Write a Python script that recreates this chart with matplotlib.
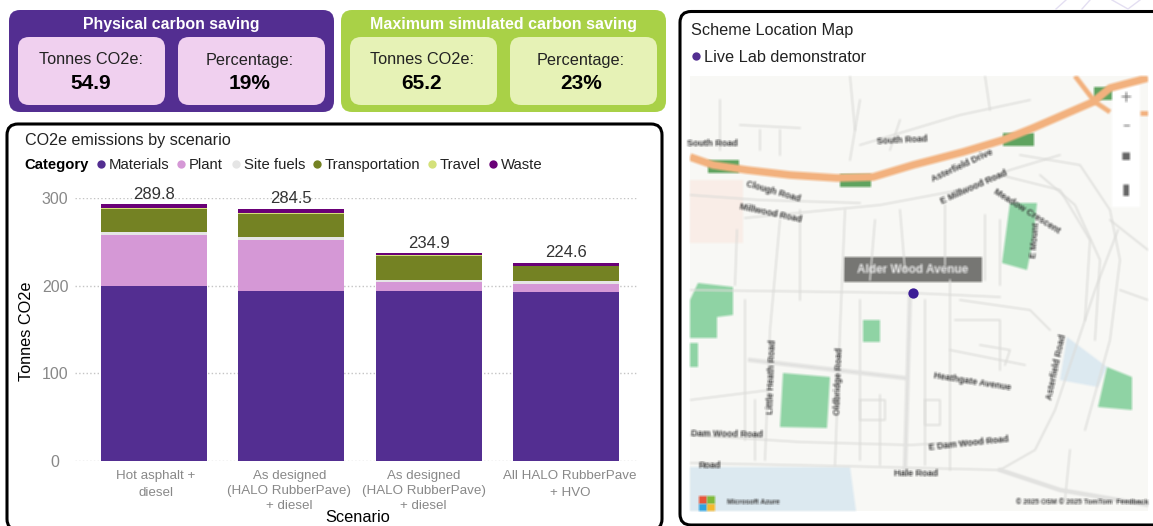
import numpy as np
import matplotlib
matplotlib.use('Agg')
import matplotlib.pyplot as plt
from matplotlib.patches import FancyBboxPatch, Polygon, Rectangle
from matplotlib.transforms import ScaledTranslation

plt.rcParams['font.family'] = ['Liberation Sans', 'DejaVu Sans']

# chart data
scenarios = ['Hot asphalt +\ndiesel', 'As designed\n(HALO RubberPave)\n+ diesel',
             'As designed\n(HALO RubberPave)\n+ diesel', 'All HALO RubberPave\n+ HVO']
totals = ['289.8', '284.5', '234.9', '224.6']
categories = ['Materials', 'Plant', 'Site fuels', 'Transportation', 'Travel', 'Waste']
materials = [200.0, 194.3, 194.3, 193.1]
plant = [58.3, 58.3, 10.3, 9.2]
site_fuels = [3.4, 3.4, 2.3, 3.4]
transportation = [26.3, 26.3, 27.4, 17.2]
travel = [1.1, 1.1, 0.2, 0.1]
waste = [3.5, 4.6, 3.2, 3.4]
yticks = [0, 100, 200, 300]
cat_colors = ['#532E91', '#D598D6', '#E5E5E5', '#748223', '#D4E17A', '#6A0077']
legend_x = [101, 181, 235.5, 316.5, 431.5, 492.5]

# map data (pixel positions of the basemap features)
main_road = [(690, 157), (713, 165), (747, 170), (790, 175), (837, 178), (873, 177), (913, 165),
             (963, 152), (1003, 140), (1033, 128), (1093, 102), (1110, 88), (1148, 78)]
side_roads = [[(1075, 76), (1095, 102), (1110, 112)], [(1148, 113), (1140, 113)]]
shields = [(708, 160), (840, 174), (1003, 133), (1094, 87)]
parks = [[(1010, 203), (1037, 203), (1033, 240), (1027, 270), (1002, 263)],
         [(698, 283), (733, 287), (733, 315), (717, 317), (717, 338), (690, 338), (690, 300)],
         [(690, 343), (698, 343), (698, 367), (690, 367)],
         [(863, 320), (880, 320), (880, 342), (863, 342)],
         [(783, 373), (830, 377), (827, 428), (780, 427)],
         [(1107, 367), (1132, 377), (1132, 410), (1098, 407)]]
water = [[(690, 467), (850, 467), (856, 511), (690, 511)],
         [(1067, 337), (1107, 367), (1098, 387), (1060, 380)]]
pink_area = [(690, 180), (743, 180), (743, 243), (690, 243)]
streets = [[(690, 290), (912, 293), (1000, 297)],
           [(690, 463), (840, 466), (1000, 470), (1035, 450), (1055, 410), (1075, 350), (1095, 290), (1118, 230)],
           [(745, 218), (880, 205), (960, 190), (1010, 170), (1060, 155)], [(690, 195), (760, 200), (860, 203)],
           [(780, 220), (770, 330), (765, 460)], [(845, 210), (840, 330), (835, 465)],
           [(690, 435), (800, 442), (910, 445), (1000, 440)],
           [(1020, 155), (1080, 165), (1110, 210), (1120, 260), (1110, 340), (1085, 430)],
           [(1000, 175), (1060, 190), (1090, 240), (1085, 320)], [(1040, 175), (1075, 205), (1100, 260), (1095, 340)],
           [(950, 280), (950, 470)], [(960, 300), (1030, 310), (1050, 330)],
           [(1000, 470), (1060, 490), (1148, 505)], [(720, 100), (720, 150)], [(850, 76), (855, 130)],
           [(985, 76), (990, 110)], [(740, 125), (800, 128)], [(860, 145), (960, 115), (1030, 100)],
           [(800, 210), (800, 300)], [(900, 210), (905, 270)], [(690, 400), (770, 390)],
           [(950, 350), (1025, 365)], [(737, 230), (735, 285)], [(875, 220), (870, 280)],
           [(945, 205), (945, 265)], [(985, 215), (985, 280)], [(760, 130), (760, 150)], [(780, 130), (780, 155)],
           [(860, 100), (850, 160)], [(900, 120), (890, 150)], [(745, 300), (745, 440)], [(755, 400), (755, 460)],
           [(860, 300), (860, 460)], [(880, 395), (880, 465)], [(925, 300), (925, 465)], [(955, 320), (1000, 320), (1000, 370)],
           [(980, 345), (1010, 350), (1005, 365)], [(860, 400), (885, 400), (885, 420), (860, 420), (860, 400)],
           [(925, 400), (940, 400), (940, 425), (925, 425), (925, 400)], [(1000, 220), (1000, 285)],
           [(1120, 290), (1148, 300)], [(1110, 220), (1148, 250)], [(1070, 450), (1065, 500)]]
wide_streets = [[(910, 293), (905, 470)], [(750, 360), (905, 378)], [(1000, 470), (1060, 490), (1148, 505)]]
road_labels = [('South Road', 712, 143, 0), ('South Road', 902, 140, 3), ('Asterfield Drive', 962, 166, 25),
               ('E Millwood Road', 974, 187, 24), ('Clough Road', 773, 191, -16), ('Millwood Road', 771, 213, -12),
               ('Meadow Crescent', 1027, 211, -32), ('Little Heath Road', 772, 377, 88), ('Oldbridge Road', 839, 381, 88),
               ('Heathgate Avenue', 972, 382, -9), ('Asterfield Road', 1056, 367, 78), ('E Dam Wood Road', 969, 443, 6),
               ('Dam Wood Road', 727, 434, -1), ('Hale Road', 916, 474, 0), ('Road', 710, 466, 0),
               ('E Mount', 1035, 240, 85), ('Microsoft Azure', 753, 503, 0),
               ('© 2025 OSM © 2025 TomTom  Feedback', 1082, 503, 0)]
map_controls = ['+', '–', '▪', '▮']


def blur(image, dpi):
    # box blur on premultiplied colours, the basemap in the reference is a soft screenshot
    pad = 4
    img = np.pad(image, ((pad, pad), (pad, pad), (0, 0)))
    img[..., :3] = img[..., :3] * img[..., 3:4]
    for axis in (0, 1):
        img = (np.roll(img, -1, axis) + np.roll(img, 1, axis) + img) / 3
    a = np.clip(img[..., 3:4], 1e-4, 1)
    img[..., :3] = np.clip(img[..., :3] / a, 0, 1)
    return img, -pad, -pad


def card(ax, x0, y0, x1, y1, color, r):
    p = FancyBboxPatch((x0, y0), x1 - x0, y1 - y0, boxstyle='round,pad=0,rounding_size=' + str(r),
                       fc=color, ec='none', mutation_aspect=1)
    ax.add_patch(p)


fig = plt.figure(figsize=(11.53, 5.26), dpi=100)

# whole figure axes in pixels, for cards and the map
bg = fig.add_axes([0, 0, 1, 1])
bg.set_xlim(0, 1153)
bg.set_ylim(526, 0)
bg.axis('off')

# KPI cards
card(bg, 9, 10, 334, 112, '#532E91', 11)
card(bg, 341, 10, 666, 112, '#A9D147', 11)
card(bg, 18, 37, 165, 105, '#F0D0EF', 11)
card(bg, 178, 37, 325, 105, '#F0D0EF', 11)
card(bg, 350, 37, 497, 105, '#E6F2B6', 11)
card(bg, 510, 37, 657, 105, '#E6F2B6', 11)
bg.text(171, 24, 'Physical carbon saving', color='white', fontsize=11.4, fontweight='bold', ha='center', va='center')
bg.text(504, 24, 'Maximum simulated carbon saving', color='white', fontsize=11.5, fontweight='bold', ha='center', va='center')
for cx, lab, val in [(91, 'Tonnes CO2e:', '54.9'), (250, 'Percentage:', '19%'),
                     (422, 'Tonnes CO2e:', '65.2'), (581, 'Percentage:', '23%')]:
    bg.text(cx, 60, lab, color='#222222', fontsize=11.7, ha='center', va='center')
    bg.text(cx, 83.5, val, color='black', fontsize=15, fontweight='bold', ha='center', va='center')

# panel borders
for x0, y0, x1, y1 in [(7, 124, 662, 530), (680, 11.5, 1165, 525)]:
    p = FancyBboxPatch((x0, y0), x1 - x0, y1 - y0, boxstyle='round,pad=0,rounding_size=11',
                       fc='white', ec='black', lw=2.2, mutation_aspect=1)
    bg.add_patch(p)

# faint watermark strokes at the top right
for seg in [[(1056, 9), (1066, 0)], [(1082, 9), (1090, 0)], [(1112, 0), (1128, 9), (1140, 0)]]:
    bg.plot(*zip(*seg), color='#E4DFF2', lw=1)

bg.text(25, 140, 'CO2e emissions by scenario', color='#222222', fontsize=11.6, ha='left', va='center')
bg.text(24, 165, 'Category', color='black', fontsize=10.7, fontweight='bold', ha='left', va='center')
for x, name, col in zip(legend_x, categories, cat_colors):
    bg.scatter([x], [164], s=36, color=col, linewidths=0)
    bg.text(x + 8, 165, name, color='#222222', fontsize=10.7, ha='left', va='center')
bg.text(27, 331, 'Tonnes CO2e', color='black', fontsize=11.7, rotation=90, ha='center', va='center')
bg.text(358, 518, 'Scenario', color='black', fontsize=11.8, ha='center', va='center')

bg.text(691, 30, 'Scheme Location Map', color='#222222', fontsize=11.7, ha='left', va='center')
bg.scatter([696], [56], s=36, color='#532E91', linewidths=0)
bg.text(704, 57, 'Live Lab demonstrator', color='#222222', fontsize=11.7, ha='left', va='center')

# map
mapbox = Rectangle((690, 76), 458, 435, fc='#F8F8F5', ec='none')
bg.add_patch(mapbox)
soft = []
soft.append(bg.add_patch(Polygon(pink_area, fc='#F9EEE7', ec='none')))
for w in water:
    soft.append(bg.add_patch(Polygon(w, fc='#DCE9F1', ec='none')))
for s in streets:
    soft += bg.plot(*zip(*s), color='#DCDCD9', lw=1.1)
for s in wide_streets:
    soft += bg.plot(*zip(*s), color='#E2E2E0', lw=3)
for park in parks:
    soft.append(bg.add_patch(Polygon(park, fc='#8FD3A4', ec='none')))
soft += bg.plot(*zip(*main_road), color='#F3B27E', lw=5.5, solid_capstyle='butt')
for s in side_roads:
    soft += bg.plot(*zip(*s), color='#F3B27E', lw=3.5, solid_capstyle='butt')
for sx, sy in shields:
    soft.append(bg.add_patch(Rectangle((sx, sy), 31, 13, fc='#5FA35F', ec='none')))
soft.append(bg.add_patch(Rectangle((1112, 85), 28, 122, fc='white', ec='none')))
for name, x, y, rot in road_labels:
    size = 5 if name.startswith('©') or name.startswith('Micro') else 6.5
    soft.append(bg.text(x, y, name, color='#333333', fontsize=size, fontweight='bold', rotation=rot,
                        ha='center', va='center', rotation_mode='anchor'))
for cy, ch in zip([97, 125, 155, 190], map_controls):
    soft.append(bg.text(1126, cy, ch, color='#666666', fontsize=11, ha='center', va='center', family='DejaVu Sans'))
soft.append(bg.add_patch(Rectangle((844, 257), 138, 25, fc='#777773', ec='none')))
soft.append(bg.text(913, 270, 'Alder Wood Avenue', color='#EEEEEE', fontsize=8.5, fontweight='bold', ha='center', va='center'))
for sq, col in [((699, 496), '#E8563A'), ((707, 496), '#7FBA3A'), ((699, 504), '#2FA3E0'), ((707, 504), '#F5B92E')]:
    soft.append(bg.add_patch(Rectangle(sq, 8, 8, fc=col, ec='none')))
for a in soft:
    a.set_agg_filter(blur)
    a.set_clip_path(mapbox)
bg.scatter([913], [293], s=55, color='#3B1C96', linewidths=0, zorder=6)

# stacked bar chart
ax = fig.add_axes([74.6 / 1153, (526 - 461) / 526, (636.6 - 74.6) / 1153, (461 - 198) / 526])
ax.patch.set_alpha(0)
x = np.arange(len(scenarios))
bottom = np.zeros(len(scenarios))
for vals, col in zip([materials, plant, site_fuels, transportation, travel, waste], cat_colors):
    ax.bar(x, vals, width=0.772, bottom=bottom, color=col, linewidth=0, zorder=3)
    bottom = bottom + np.array(vals)
for i, t in enumerate(totals):
    ax.annotate(t, (x[i], bottom[i]), xytext=(0, 1.5), textcoords='offset points', ha='center', va='bottom',
                fontsize=12, color='#333333', annotation_clip=False, zorder=5)
ax.set_xlim(-0.578, 3.515)
ax.set_ylim(0, 300)
ax.set_yticks(yticks)
ax.set_xticks(x)
ax.set_xticklabels(scenarios, fontsize=9.6, color='#888888')
ax.tick_params(axis='both', length=0)
ax.tick_params(axis='x', pad=6.5)
ax.tick_params(axis='y', labelsize=11.5, labelcolor='#888888', pad=14)
for lab in ax.get_yticklabels():
    lab.set_ha('center')
for lab, dx, sp in zip(ax.get_xticklabels(), [2, -2, -5, 4], [1.55, 1.32, 1.32, 1.5]):
    lab.set_linespacing(sp)
    lab.set_transform(lab.get_transform() + ScaledTranslation(dx / 100, 0, fig.dpi_scale_trans))
ax.grid(axis='y', color='#C4C4C4', linestyle=':', linewidth=1, zorder=0)
ax.set_axisbelow(True)
for s in ax.spines.values():
    s.set_visible(False)

plt.savefig('out.png', dpi=100)
plt.close()
